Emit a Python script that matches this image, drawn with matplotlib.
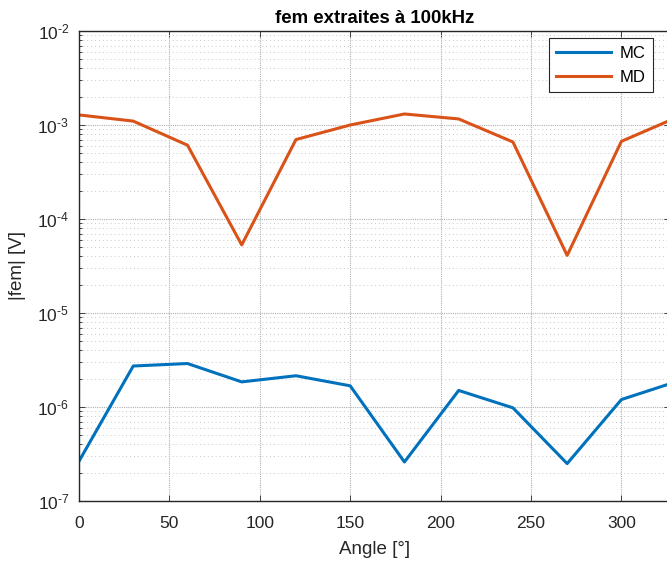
import matplotlib
matplotlib.use("Agg")
import matplotlib.pyplot as plt
import numpy as np
from matplotlib.ticker import LogLocator, FixedLocator, NullFormatter, FuncFormatter

plt.rcParams['font.family'] = ['Liberation Sans', 'DejaVu Sans']
plt.rcParams['mathtext.fontset'] = 'custom'
plt.rcParams['mathtext.rm'] = 'Liberation Sans'
plt.rcParams['mathtext.it'] = 'Liberation Sans:italic'
plt.rcParams['mathtext.bf'] = 'Liberation Sans:bold'

angles = [0, 30, 60, 90, 120, 150, 180, 210, 240, 270, 300, 330]
mc = [2.65e-7, 2.73e-6, 2.9e-6, 1.85e-6, 2.15e-6, 1.68e-6, 2.6e-7, 1.5e-6, 9.8e-7, 2.5e-7, 1.2e-6, 1.85e-6]
md = [1.28e-3, 1.10e-3, 6.1e-4, 5.3e-5, 7.0e-4, 1.0e-3, 1.31e-3, 1.16e-3, 6.6e-4, 4.1e-5, 6.7e-4, 1.19e-3]
xticks = [0, 50, 100, 150, 200, 250, 300, 350]
title = "fem extraites à 100kHz"

W, H = 667, 565
fig = plt.figure(figsize=(W/100, H/100), dpi=100)
ax = fig.add_axes([79/W, (H-501)/H, (670-79)/W, (501-31)/H])

c_mc = '#0072BD'
c_md = '#D95319'
ax.plot(angles, mc, color=c_mc, lw=2.2, label='MC')
ax.plot(angles, md, color=c_md, lw=2.2, label='MD')

ax.set_yscale('log')
ax.set_ylim(1e-7, 1e-2)
ax.set_xlim(0, 591/90.4*50)
ax.xaxis.set_major_locator(FixedLocator(xticks))
ax.yaxis.set_major_locator(LogLocator(base=10, numticks=10))
ax.yaxis.set_minor_locator(LogLocator(base=10, subs=np.arange(2, 10), numticks=20))
ax.yaxis.set_minor_formatter(NullFormatter())

def yfmt(v, pos):
    e = int(round(np.log10(v)))
    s = str(e).replace('-', r'\text{-}')
    return r'$\mathregular{10^{' + s + r'}}$'
ax.yaxis.set_major_formatter(FuncFormatter(yfmt))

dark = '#262626'
ax.tick_params(which='both', direction='in', top=True, right=True, colors=dark, labelsize=12.5)
ax.tick_params(axis='x', which='major', pad=11)
ax.tick_params(axis='y', which='major', pad=7)
ax.tick_params(which='major', length=4, width=0.6)
ax.tick_params(which='minor', length=2.5, width=0.6)
for s in ax.spines.values():
    s.set_color(dark)
    s.set_linewidth(1.0)

ax.grid(True, which='major', color='#b0b0b0', linestyle=(0, (1, 1)), linewidth=0.8)
ax.yaxis.grid(True, which='minor', color='#c8c8c8', linestyle=(0, (1, 3)), linewidth=0.7)
ax.set_axisbelow(True)

ax.set_xlabel('Angle [°]', fontsize=13.5, color=dark, labelpad=7)
ax.set_ylabel('|fem| [V]', fontsize=13.5, color=dark, labelpad=8)
ax.set_title(title, fontsize=13.4, fontweight='bold', color='black', pad=6)

leg = ax.legend(loc='upper right', bbox_to_anchor=(653/W, 1-38/H), bbox_transform=fig.transFigure,
                borderaxespad=0, fancybox=False, edgecolor=dark, fontsize=12,
                handlelength=3.3, handletextpad=0.5, framealpha=1, borderpad=0.45, labelspacing=0.55)
leg.get_frame().set_linewidth(0.8)

fig.savefig('out.png', dpi=100)
